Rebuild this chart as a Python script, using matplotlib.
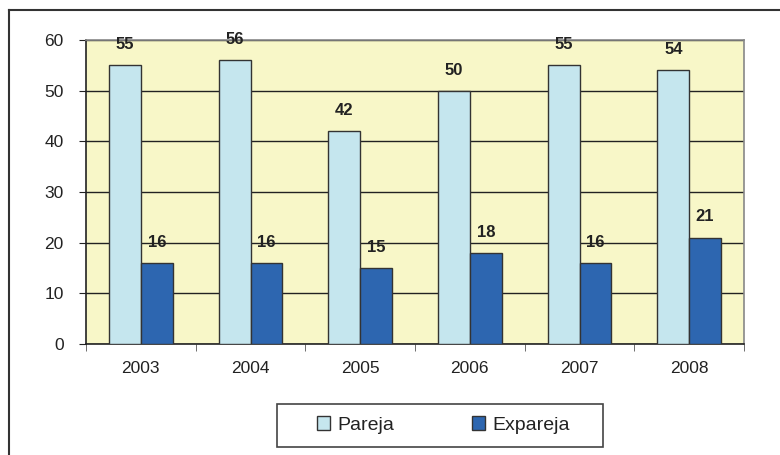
import matplotlib
matplotlib.use("Agg")
from matplotlib import pyplot as plt
from matplotlib.lines import Line2D
from matplotlib.patches import Rectangle
import numpy as np

plt.rcParams['font.family'] = ['Liberation Sans', 'DejaVu Sans']

years = ["2003", "2004", "2005", "2006", "2007", "2008"]
pareja = [55, 56, 42, 50, 55, 54]
expareja = [16, 16, 15, 18, 16, 21]

fig = plt.figure(figsize=(7.8, 4.55), dpi=100)
ax = fig.add_axes([0.1103, 0.2440, 0.8436, 0.668])
ax.set_facecolor("#F8F7C8")

x = np.arange(len(years))
w = 0.29
b1 = ax.bar(x - w / 2, pareja, w, color="#C5E6EE", edgecolor="#333333", linewidth=1, label="Pareja", zorder=3)
b2 = ax.bar(x + w / 2, expareja, w, color="#2D66B0", edgecolor="#333333", linewidth=1, label="Expareja", zorder=3)

for rect, v in zip(list(b1) + list(b2), pareja + expareja):
    ax.text(rect.get_x() + rect.get_width() / 2, v + 2.6, str(v), ha="center", va="bottom",
            fontsize=12, fontweight="bold", color="#222222")

ax.set_xlim(-0.5, len(years) - 0.5)
ax.set_ylim(0, 60)
ax.set_yticks(range(0, 61, 10))
ax.yaxis.grid(True, color="#222222", linewidth=1, zorder=0)
ax.set_axisbelow(True)
ax.set_xticks(x)
ax.set_xticklabels(years)
ax.set_xticks(np.arange(-0.5, len(years), 1), minor=True)
ax.tick_params(axis="x", which="major", length=0, pad=12, labelsize=12.5, labelcolor="#222222")
ax.tick_params(axis="x", which="minor", length=5, color="#555555", direction="out")
ax.tick_params(axis="y", length=5, labelsize=12.5, labelcolor="#222222", pad=11, color="#222222")
ax.spines["left"].set_color("#222222")
ax.spines["bottom"].set_color("#222222")
ax.spines["top"].set_color("#888888")
ax.spines["right"].set_color("#888888")
for s in ax.spines.values():
    s.set_linewidth(1.2)

# outer frame (cut off at right and bottom)
fig.add_artist(Line2D([9 / 780, 1], [1 - 10 / 455, 1 - 10 / 455], color="#333333", linewidth=1.5))
fig.add_artist(Line2D([9 / 780, 9 / 780], [0, 1 - 10 / 455], color="#333333", linewidth=1.5))

# legend box
fig.add_artist(Rectangle((277 / 780, 1 - 447 / 455), 326 / 780, 43 / 455, transform=fig.transFigure,
                         facecolor="white", edgecolor="#444444", linewidth=1.2))
leg = fig.legend(handles=[b1, b2], loc="center", bbox_to_anchor=(443 / 780, 1 - 425 / 455),
                 ncol=2, frameon=False, fontsize=14, handlelength=0.7,
                 handleheight=0.7, columnspacing=4.0, handletextpad=0.35,
                 borderpad=0.3, borderaxespad=0)
for t in leg.get_texts():
    t.set_color("#222222")

fig.savefig("out.png", dpi=100)
